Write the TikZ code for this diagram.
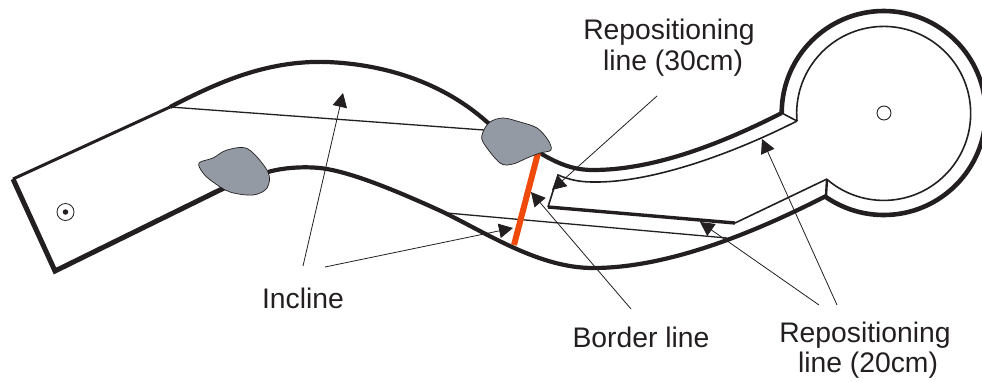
\documentclass[tikz,border=0pt]{standalone}
\usepackage{fontspec}
\setmainfont{Liberation Sans}
\usetikzlibrary{arrows.meta}
\definecolor{ink}{HTML}{231F20}
\definecolor{blobgrey}{HTML}{939AA3}
\definecolor{borderred}{HTML}{EF4A0A}
\tikzset{
  wall/.style={draw=ink,line width=4.2pt,line join=miter},
  wallthin/.style={draw=ink,line width=3pt},
  inner/.style={draw=ink,line width=1.6pt,line join=miter},
  thinline/.style={draw=ink,line width=1.3pt},
  leader/.style={draw=ink,line width=0.8pt,-{Triangle[length=14pt,width=14.5pt]}},
  blob/.style={draw=ink,line width=0.7pt,fill=blobgrey},
  lab/.style={font=\fontsize{28.3}{30.6}\selectfont,align=center,text=ink,inner sep=0pt},
  hub/.style={draw=ink,line width=0.9pt,fill=white,circle,inner sep=0pt}
}
\begin{document}
\begin{tikzpicture}[x=1pt,y=-1pt]
\useasboundingbox (0,0) rectangle (982,381);
% anchors
\coordinate (A) at (13,179);
\coordinate (B) at (55,271);
\coordinate (C) at (170,107);
\coordinate (D) at (226,187);
\coordinate (E) at (781.7,113);
\coordinate (F) at (797,121);
\coordinate (G) at (827,179);
\coordinate (H) at (826,196);
\coordinate (cc) at (884,113);
% outer walls
\draw[wallthin] (A) -- (C);
\draw[wall,line width=5pt] (A) -- (B) -- (D);
\draw[wall] (C) .. controls (215,84) and (265,60) .. (327,62)
  .. controls (380,64) and (440,80) .. (487,122)
  .. controls (505,136) and (525,146) .. (540,153)
  .. controls (560,165) and (575,170) .. (593,170)
  .. controls (650,170) and (715,147) .. (E);
\draw[wall] (268,172) .. controls (285,167) and (310,166) .. (327,169)
  .. controls (355,174) and (395,190) .. (443,212)
  .. controls (490,235) and (540,268) .. (593,268)
  .. controls (660,268) and (740,240) .. (H);
\draw[wall,line width=4.6pt] (E) arc[start angle=180,end angle=485,radius=102];
\draw[inner,line width=2.4pt] (G) -- (H);
% inner channel
\draw[inner] (F) .. controls (730,155) and (650,183) .. (593,182)
  .. controls (580,182) and (570,180) .. (558,175) -- (548,207);
\draw[inner,line width=3.4pt] (548,207) -- (735,223);
\draw[inner] (735,223) -- (G);
\draw[inner] (F) arc[start angle=175,end angle=490.8,radius=87];
\draw[inner] (E) -- (F);
% thin reposition lines
\draw[thinline] (C) -- (484,130);
\draw[thinline] (447,213) -- (727,238);
% border
\draw[draw=borderred,line width=6pt] (538,153) -- (514,245);
% patches
\draw[blob] plot[smooth cycle,tension=0.55] coordinates {(199,163) (213,158) (227,150) (248,149) (268,172) (267,188) (253,195) (230,192) (213,182) (203,173)};
\draw[blob] plot[smooth cycle,tension=0.55] coordinates {(483,132) (490,122) (503,118) (520,122) (537,128) (548,140) (551,150) (540,153) (527,158) (513,164) (500,163) (483,142)};
% centres
\node[hub,minimum size=17pt,line width=0.8pt] (hubL) at (65.5,212) {};
\node[circle,fill=ink,inner sep=0pt,minimum size=5.5pt] (hubLd) at (65.5,212) {};
\node[hub,minimum size=14pt] (hubR) at (cc) {};
% labels
\node[lab] (rep30) at (669,47.5) {Repositioning\\\hspace*{8pt}line (30cm)};
\node[lab] (incl) at (303,298) {Incline};
\node[lab] (bord) at (641,337) {Border line};
\node[lab] (rep20) at (865,350) {Repositioning\\\hspace*{6pt}line (20cm)};
% leader ends
\coordinate (t30) at (657,96);
\coordinate (h30) at (552,190);
\coordinate (tb) at (631,309);
\coordinate (hb) at (531,192);
\coordinate (ti1) at (325,267);
\coordinate (hi1) at (513,228);
\coordinate (ti2) at (303,266);
\coordinate (hi2) at (343,93);
\coordinate (tr1) at (837,305);
\coordinate (hr1) at (762,139);
\coordinate (tr2) at (819,305);
\coordinate (hr2) at (700,222);
\draw[leader] (t30) -- (h30);
\draw[leader] (tb) -- (hb);
\draw[leader] (ti1) -- (hi1);
\draw[leader] (ti2) -- (hi2);
\draw[leader] (tr1) -- (hr1);
\draw[leader] (tr2) -- (hr2);
\end{tikzpicture}
\end{document}
